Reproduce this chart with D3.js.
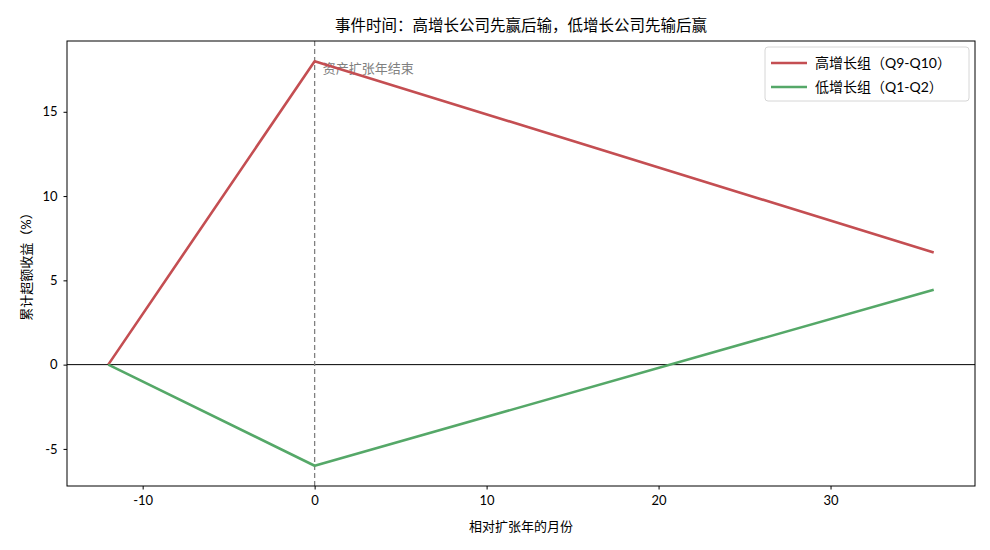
<html>
<head>
<meta charset="utf-8">
<script src="https://cdn.jsdelivr.net/npm/d3@7"></script>
<style>
body { margin: 0; background: #fff; }
text { font-family: Lato, "Noto Sans CJK SC", sans-serif; }
</style>
</head>
<body>
<svg width="990" height="550"></svg>
<script>
// months relative to expansion year end
var months = [-12, 0, 36];
var highGrowth = [0, 18, 6.65];
var lowGrowth = [0, -6, 4.45];
var seriesNames = ["高增长组（Q9-Q10）", "低增长组（Q1-Q2）"];
var seriesColors = ["#c44e52", "#55a868"];
var xTicks = [-10, 0, 10, 20, 30];
var yTicks = [-5, 0, 5, 10, 15];

var svg = d3.select("svg");
var pL = 67, pR = 975, pT = 41, pB = 486;

var x = d3.scaleLinear().domain([-14.4, 38.4]).range([pL, pR]);
var y = d3.scaleLinear().domain([-7.2, 19.2]).range([pB, pT]);

// zero line
svg.append("line")
  .attr("x1", pL).attr("x2", pR)
  .attr("y1", y(0)).attr("y2", y(0))
  .attr("stroke", "#000").attr("stroke-width", 1);

// vertical marker at month 0
svg.append("line")
  .attr("x1", x(0)).attr("x2", x(0))
  .attr("y1", pT).attr("y2", pB)
  .attr("stroke", "#808080").attr("stroke-width", 1.3)
  .attr("stroke-dasharray", "5,3");

svg.append("text")
  .attr("x", x(0) + 8).attr("y", y(18) + 12)
  .attr("font-size", 13).attr("fill", "#808080")
  .text("资产扩张年结束");

var line = d3.line()
  .x(function(d, i) { return x(months[i]); })
  .y(function(d) { return y(d); });

[highGrowth, lowGrowth].forEach(function(s, k) {
  svg.append("path")
    .datum(s)
    .attr("d", line)
    .attr("fill", "none")
    .attr("stroke", seriesColors[k])
    .attr("stroke-width", 2.6)
    .attr("stroke-linejoin", "round");
});

// axes
var xAxis = svg.append("g")
  .attr("transform", "translate(0," + pB + ")")
  .call(d3.axisBottom(x).tickValues(xTicks).tickSize(3.5).tickPadding(6)
    .tickFormat(function(d) { return String(d); }));
var yAxis = svg.append("g")
  .attr("transform", "translate(" + pL + ",0)")
  .call(d3.axisLeft(y).tickValues(yTicks).tickSize(3.5).tickPadding(6)
    .tickFormat(function(d) { return String(d); }));
[xAxis, yAxis].forEach(function(a) {
  a.select(".domain").remove();
  a.selectAll("text").attr("font-size", 13).attr("fill", "#000")
    .attr("font-family", "Lato, 'Noto Sans CJK SC', sans-serif");
  a.selectAll("line").attr("stroke", "#000");
});

// frame
svg.append("rect")
  .attr("x", pL).attr("y", pT)
  .attr("width", pR - pL).attr("height", pB - pT)
  .attr("fill", "none").attr("stroke", "#000").attr("stroke-width", 1);

// title & labels
svg.append("text")
  .attr("x", (pL + pR) / 2).attr("y", 31)
  .attr("text-anchor", "middle").attr("font-size", 15.5)
  .text("事件时间：高增长公司先赢后输，低增长公司先输后赢");
svg.append("text")
  .attr("x", (pL + pR) / 2).attr("y", 531)
  .attr("text-anchor", "middle").attr("font-size", 13)
  .text("相对扩张年的月份");
svg.append("text")
  .attr("transform", "translate(31," + ((pT + pB) / 2) + ") rotate(-90)")
  .attr("text-anchor", "middle").attr("font-size", 13)
  .text("累计超额收益（%）");

// legend
var lg = svg.append("g").attr("transform", "translate(765,47)");
lg.append("rect")
  .attr("width", 204).attr("height", 54).attr("rx", 3)
  .attr("fill", "#fff").attr("fill-opacity", 0.8)
  .attr("stroke", "#d6d6d6");
seriesNames.forEach(function(n, i) {
  var yy = 16 + i * 24;
  lg.append("line")
    .attr("x1", 6).attr("x2", 42).attr("y1", yy).attr("y2", yy)
    .attr("stroke", seriesColors[i]).attr("stroke-width", 2.6);
  lg.append("text")
    .attr("x", 50).attr("y", yy + 5)
    .attr("font-size", 14).text(n);
});
</script>
</body>
</html>
